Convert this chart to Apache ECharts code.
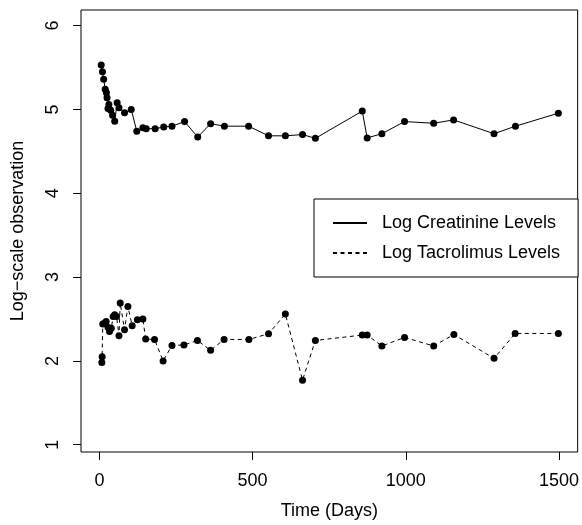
<!DOCTYPE html>
<html><head><meta charset="utf-8">
<script src="https://cdn.jsdelivr.net/npm/echarts@6/dist/echarts.min.js"></script>
<style>html,body{margin:0;padding:0;background:#fff}#c{width:582px;height:525px}</style>
</head><body><div id="c"></div>
<script>
const creatDays = [6,10,14,19,23,25,28,31,37,43,50,58,64,82,104,122,142,153,182,210,237,278,321,363,408,487,552,607,663,705,858,874,922,996,1091,1156,1288,1358,1498];
const creatValues = [5.53,5.45,5.36,5.24,5.20,5.14,5.01,5.06,4.99,4.93,4.86,5.08,5.02,4.96,5.00,4.74,4.78,4.77,4.77,4.79,4.80,4.855,4.67,4.83,4.80,4.80,4.685,4.685,4.70,4.655,4.98,4.66,4.71,4.855,4.835,4.875,4.71,4.80,4.955];
const tacDays = [8,9,11,17,22,28,33,39,45,50,56,64,68,82,93,107,124,142,151,180,208,237,276,320,363,407,488,552,607,663,705,858,874,922,996,1091,1157,1288,1357,1498];
const tacValues = [1.98,2.05,2.44,2.45,2.47,2.40,2.35,2.39,2.53,2.55,2.53,2.30,2.69,2.37,2.65,2.42,2.49,2.50,2.26,2.256,2.00,2.185,2.19,2.244,2.126,2.256,2.256,2.323,2.56,1.77,2.244,2.308,2.308,2.178,2.28,2.178,2.315,2.03,2.327,2.327];
const xTicks = [0,500,1000,1500];
const yTicks = [1,2,3,4,5,6];
const seriesNames = ['Log Creatinine Levels','Log Tacrolimus Levels'];
const xTitle = 'Time (Days)';
const yTitle = 'Log\u2212scale observation';

const FONT = 'Liberation Sans, Arial, Helvetica, sans-serif';
const chart = echarts.init(document.getElementById('c'), null, {renderer:'canvas'});
const axisCommon = {
  axisLine:{show:false, onZero:false},
  splitLine:{show:false},
  axisTick:{show:true, inside:false, length:8, lineStyle:{color:'#000', width:1}},
  axisLabel:{color:'#000', fontSize:18, fontFamily:FONT, formatter:(v)=>String(v)},
  nameTextStyle:{color:'#000', fontSize:18, fontFamily:FONT},
  nameLocation:'middle'
};
chart.setOption({
  backgroundColor:'#fff',
  animation:false,
  grid:{left:81, right:3, top:10, bottom:70, show:true, borderColor:'#000', borderWidth:1, backgroundColor:'transparent'},
  xAxis:Object.assign({}, axisCommon, {
    type:'value', min:-60, max:1561,
    name:xTitle, nameGap:50,
    axisTick:Object.assign({}, axisCommon.axisTick, {customValues:xTicks}),
    axisLabel:Object.assign({}, axisCommon.axisLabel, {customValues:xTicks, margin:20})
  }),
  yAxis:Object.assign({}, axisCommon, {
    type:'value', min:0.913, max:6.186,
    name:yTitle, nameGap:54, nameRotate:90,
    axisTick:Object.assign({}, axisCommon.axisTick, {customValues:yTicks}),
    axisLabel:Object.assign({}, axisCommon.axisLabel, {customValues:yTicks, rotate:90, margin:19})
  }),
  legend:{
    orient:'vertical', left:314, top:199,
    padding:[15,18,15,18],
    borderColor:'#000', borderWidth:1, borderRadius:0,
    backgroundColor:'#fff',
    itemWidth:34, itemHeight:18, itemGap:12,
    itemStyle:{opacity:0},
    textStyle:{color:'#000', fontSize:18, fontFamily:FONT, padding:[0,0,0,10]},
    data:seriesNames
  },
  series:[
    {name:seriesNames[0], type:'line', data:creatDays.map((d,i)=>[d,creatValues[i]]),
     symbol:'circle', symbolSize:7, itemStyle:{color:'#000'},
     lineStyle:{color:'#000', width:1, type:'solid'}},
    {name:seriesNames[1], type:'line', data:tacDays.map((d,i)=>[d,tacValues[i]]),
     symbol:'circle', symbolSize:7, itemStyle:{color:'#000'},
     lineStyle:{color:'#000', width:1, type:[4,3.5]}}
  ]
});
</script>
</body></html>
